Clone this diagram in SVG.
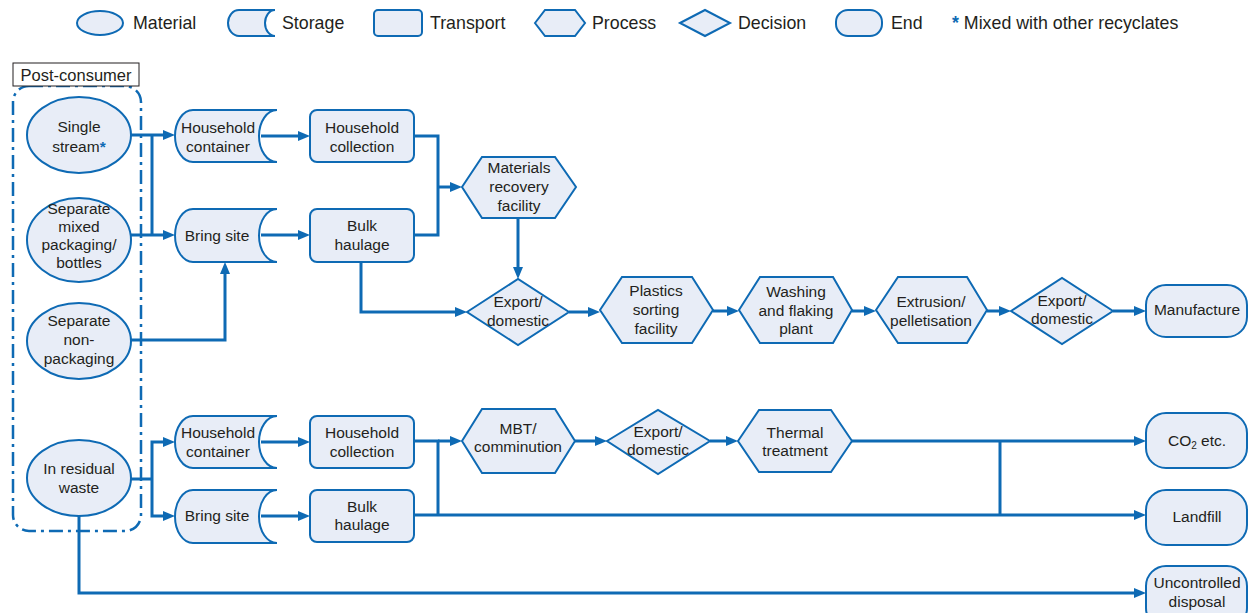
<svg xmlns="http://www.w3.org/2000/svg" width="1248" height="613" viewBox="0 0 1248 613">
  <style>
    .shape { fill: #e8edf7; stroke: #0e6ab4; stroke-width: 2; }
    .t { font-family: "Liberation Sans", Arial, sans-serif; font-size: 15.5px; fill: #231f20; text-anchor: middle; }
    .lg { font-family: "Liberation Sans", Arial, sans-serif; font-size: 17.8px; fill: #231f20; }
    .tag { font-family: "Liberation Sans", Arial, sans-serif; font-size: 16.5px; fill: #231f20; text-anchor: middle; }
    .star { fill: #0e6ab4; font-weight: bold; }
    .wire { fill: none; stroke: #0e6ab4; stroke-width: 3; }
    .arrow { marker-end: url(#head); }
  </style>
  <defs>
    <marker id="head" markerUnits="userSpaceOnUse" markerWidth="13" markerHeight="11" refX="2" refY="5" orient="auto">
      <path d="M0,0 L12,5 L0,10 z" fill="#0e6ab4"/>
    </marker>
  </defs>

  <rect width="1248" height="613" fill="#ffffff"/>

  <!-- key -->
  <g id="legend">
    <ellipse class="shape" cx="100" cy="23" rx="23" ry="12"/>
    <text class="lg" x="133" y="29">Material</text>
    <path class="shape" d="M239,10 H275 A10,13 0 0 0 275,36 H239 A11,13 0 0 1 239,10 Z"/>
    <text class="lg" x="282" y="29">Storage</text>
    <rect class="shape" x="374" y="10" width="48" height="26" rx="4"/>
    <text class="lg" x="430" y="29">Transport</text>
    <polygon class="shape" points="535,23 545,10 575,10 585,23 575,36 545,36"/>
    <text class="lg" x="592" y="29">Process</text>
    <polygon class="shape" points="680,23 705,10 730,23 705,36"/>
    <text class="lg" x="738" y="29">Decision</text>
    <rect class="shape" x="836" y="10" width="46" height="26" rx="12"/>
    <text class="lg" x="891" y="29">End</text>
    <text class="lg" x="952" y="29"><tspan class="star">*</tspan> Mixed with other recyclates</text>
  </g>

  <!-- post-consumer grouping -->
  <g id="post-consumer">
    <rect x="13" y="86" width="128" height="445" rx="16" fill="none" stroke="#0e6ab4" stroke-width="2.5" stroke-dasharray="14 5 3 5"/>
    <rect x="13" y="63" width="126" height="23" fill="#ffffff" stroke="#231f20" stroke-width="1"/>
    <text class="tag" x="76" y="80.5">Post-consumer</text>
  </g>

  <!-- connectors -->
  <g id="connectors">
    <path class="wire arrow" d="M131,135 H165"/>
    <path class="wire" d="M152,135 V235"/>
    <path class="wire arrow" d="M131,235 H165"/>
    <path class="wire arrow" d="M131,340 H225 V272"/>
    <path class="wire arrow" d="M261,136 H300"/>
    <path class="wire arrow" d="M261,235 H300"/>
    <path class="wire" d="M414,136 H438 V235 H414"/>
    <path class="wire arrow" d="M438,187 H452"/>
    <path class="wire arrow" d="M518,218 V269"/>
    <path class="wire arrow" d="M361,262 V312 H457"/>
    <path class="wire arrow" d="M569,312 H590"/>
    <path class="wire arrow" d="M713,311 H729"/>
    <path class="wire arrow" d="M852,311 H866"/>
    <path class="wire arrow" d="M987,311 H1001"/>
    <path class="wire arrow" d="M1113,311 H1136"/>

    <path class="wire" d="M131,479 H152"/>
    <path class="wire arrow" d="M152,479 V442 H165"/>
    <path class="wire arrow" d="M152,479 V516 H165"/>
    <path class="wire arrow" d="M261,442 H300"/>
    <path class="wire arrow" d="M261,516 H300"/>
    <path class="wire" d="M414,441 H438 V515"/>
    <path class="wire arrow" d="M438,441 H452"/>
    <path class="wire arrow" d="M414,515 H1136"/>
    <path class="wire arrow" d="M575,441 H597"/>
    <path class="wire arrow" d="M710,441 H728"/>
    <path class="wire arrow" d="M852,441 H1136"/>
    <path class="wire" d="M1000,441 V515"/>
    <path class="wire arrow" d="M79,516 V593 H1136"/>
  </g>

  <!-- materials -->
  <g id="single-stream">
    <ellipse class="shape" cx="79" cy="135" rx="52" ry="38"/>
    <text class="t" x="79" y="132">Single</text>
    <text class="t" x="79" y="152">stream<tspan class="star">*</tspan></text>
  </g>
  <g id="separate-mixed">
    <ellipse class="shape" cx="79" cy="240" rx="52" ry="42"/>
    <text class="t" x="79" y="214">Separate</text>
    <text class="t" x="79" y="232">mixed</text>
    <text class="t" x="79" y="250">packaging/</text>
    <text class="t" x="79" y="268">bottles</text>
  </g>
  <g id="separate-non-packaging">
    <ellipse class="shape" cx="79" cy="341" rx="52" ry="38"/>
    <text class="t" x="79" y="326">Separate</text>
    <text class="t" x="79" y="345">non-</text>
    <text class="t" x="79" y="364">packaging</text>
  </g>
  <g id="residual-waste">
    <ellipse class="shape" cx="79" cy="478" rx="52" ry="38"/>
    <text class="t" x="79" y="474">In residual</text>
    <text class="t" x="79" y="493">waste</text>
  </g>

  <!-- upper route -->
  <g id="household-container-1">
    <path class="shape" d="M193,110 H277 A18,26 0 0 0 277,162 H193 A18,26 0 0 1 193,110 Z"/>
    <text class="t" x="218" y="133">Household</text>
    <text class="t" x="218" y="152">container</text>
  </g>
  <g id="bring-site-1">
    <path class="shape" d="M193,209 H277 A18,26.5 0 0 0 277,262 H193 A18,26.5 0 0 1 193,209 Z"/>
    <text class="t" x="217" y="241">Bring site</text>
  </g>
  <g id="household-collection-1">
    <rect class="shape" x="310" y="110" width="104" height="52" rx="7"/>
    <text class="t" x="362" y="133">Household</text>
    <text class="t" x="362" y="152">collection</text>
  </g>
  <g id="bulk-haulage-1">
    <rect class="shape" x="310" y="209" width="104" height="53" rx="7"/>
    <text class="t" x="362" y="231">Bulk</text>
    <text class="t" x="362" y="250">haulage</text>
  </g>
  <g id="mrf">
    <polygon class="shape" points="462,187 482,157 555,157 576,187 555,218 482,218"/>
    <text class="t" x="519" y="173">Materials</text>
    <text class="t" x="519" y="192">recovery</text>
    <text class="t" x="519" y="211">facility</text>
  </g>
  <g id="export-1">
    <polygon class="shape" points="467,312 518,279 569,312 518,345"/>
    <text class="t" x="518" y="307">Export/</text>
    <text class="t" x="518" y="326">domestic</text>
  </g>
  <g id="plastics-sorting">
    <polygon class="shape" points="600,310 622,277 692,277 713,310 692,343 622,343"/>
    <text class="t" x="656" y="296">Plastics</text>
    <text class="t" x="656" y="315">sorting</text>
    <text class="t" x="656" y="334">facility</text>
  </g>
  <g id="washing-flaking">
    <polygon class="shape" points="739,310 760,277 833,277 852,310 833,343 760,343"/>
    <text class="t" x="796" y="297">Washing</text>
    <text class="t" x="796" y="316">and flaking</text>
    <text class="t" x="796" y="334">plant</text>
  </g>
  <g id="extrusion">
    <polygon class="shape" points="876,310 898,277 967,277 987,310 967,343 898,343"/>
    <text class="t" x="931" y="307">Extrusion/</text>
    <text class="t" x="931" y="326">pelletisation</text>
  </g>
  <g id="export-2">
    <polygon class="shape" points="1011,311 1062,278 1113,311 1062,344"/>
    <text class="t" x="1062" y="306">Export/</text>
    <text class="t" x="1062" y="324">domestic</text>
  </g>
  <g id="manufacture">
    <rect class="shape" x="1146" y="285" width="101" height="52" rx="20"/>
    <text class="t" x="1197" y="315">Manufacture</text>
  </g>

  <!-- residual route -->
  <g id="household-container-2">
    <path class="shape" d="M193,416 H277 A18,26 0 0 0 277,468 H193 A18,26 0 0 1 193,416 Z"/>
    <text class="t" x="218" y="438">Household</text>
    <text class="t" x="218" y="457">container</text>
  </g>
  <g id="bring-site-2">
    <path class="shape" d="M193,490 H277 A18,26.5 0 0 0 277,543 H193 A18,26.5 0 0 1 193,490 Z"/>
    <text class="t" x="217" y="521">Bring site</text>
  </g>
  <g id="household-collection-2">
    <rect class="shape" x="310" y="416" width="104" height="52" rx="7"/>
    <text class="t" x="362" y="438">Household</text>
    <text class="t" x="362" y="457">collection</text>
  </g>
  <g id="bulk-haulage-2">
    <rect class="shape" x="310" y="490" width="104" height="52" rx="7"/>
    <text class="t" x="362" y="512">Bulk</text>
    <text class="t" x="362" y="530">haulage</text>
  </g>
  <g id="mbt">
    <polygon class="shape" points="462,441 482,409 555,409 575,441 555,473 482,473"/>
    <text class="t" x="518" y="434">MBT/</text>
    <text class="t" x="518" y="452">comminution</text>
  </g>
  <g id="export-3">
    <polygon class="shape" points="607,441 658,410 710,441 658,474"/>
    <text class="t" x="658" y="437">Export/</text>
    <text class="t" x="658" y="455">domestic</text>
  </g>
  <g id="thermal-treatment">
    <polygon class="shape" points="738,441 759,410 831,410 852,441 831,472 759,472"/>
    <text class="t" x="795" y="438">Thermal</text>
    <text class="t" x="795" y="456">treatment</text>
  </g>
  <g id="co2">
    <rect class="shape" x="1146" y="413" width="101" height="55" rx="20"/>
    <text class="t" x="1197" y="446">CO<tspan font-size="10" dy="3">2</tspan><tspan dy="-3"> etc.</tspan></text>
  </g>
  <g id="landfill">
    <rect class="shape" x="1146" y="490" width="101" height="55" rx="20"/>
    <text class="t" x="1197" y="522">Landfill</text>
  </g>
  <g id="uncontrolled-disposal">
    <rect class="shape" x="1146" y="566" width="101" height="62" rx="20"/>
    <text class="t" x="1197" y="588">Uncontrolled</text>
    <text class="t" x="1197" y="607">disposal</text>
  </g>
</svg>
